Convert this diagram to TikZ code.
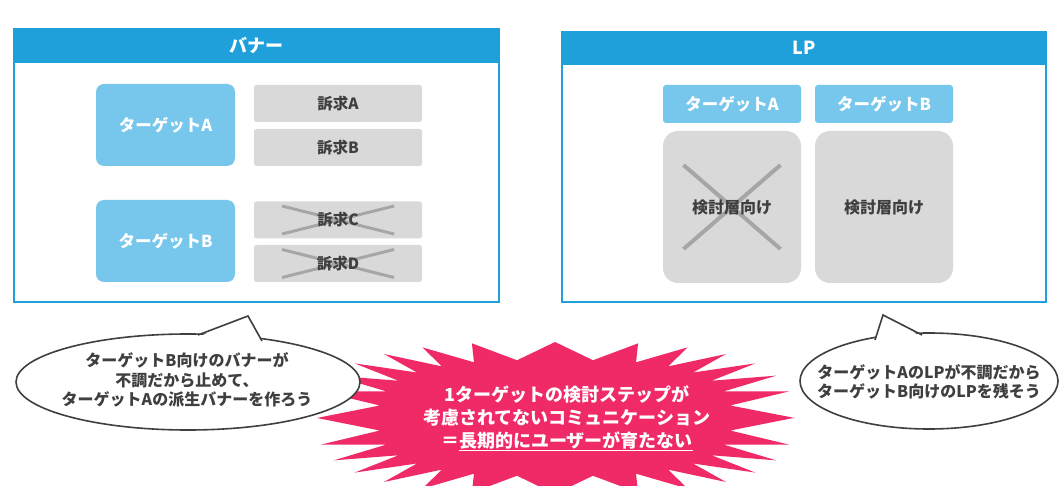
\documentclass[tikz,border=0pt]{standalone}
\usepackage{fontspec}
\setmainfont{Noto Sans CJK JP}
\usetikzlibrary{calc,shapes.geometric}
\definecolor{hdrblue}{HTML}{1FA0DA}
\definecolor{tgtblue}{HTML}{77C7EC}
\definecolor{boxgray}{HTML}{D9D9D9}
\definecolor{crossgray}{HTML}{A6A6A6}
\definecolor{txtdark}{HTML}{3F3F3F}
\definecolor{starpink}{HTML}{F02A66}
\tikzset{
  panelframe/.style={draw=hdrblue, line width=2pt, fill=white},
  panelhdr/.style={fill=hdrblue, draw=none},
  hdrtext/.style={text=white, font=\bfseries\fontsize{18}{20}\selectfont},
  tgtbox/.style={fill=tgtblue, draw=none, rounded corners=8pt, text=white,
    font=\bfseries\fontsize{16.5}{18}\selectfont, inner sep=0pt},
  appealbox/.style={fill=boxgray, draw=none, rounded corners=2.5pt, text=txtdark,
    minimum width=168pt, minimum height=37pt, inner sep=0pt,
    font=\bfseries\fontsize{15.5}{17}\selectfont},
  appealtext/.style={text=txtdark, font=\bfseries\fontsize{15.5}{17}\selectfont},
  lpbox/.style={fill=boxgray, draw=none, rounded corners=15pt, text=txtdark,
    minimum width=138pt, minimum height=152pt, inner sep=0pt,
    font=\bfseries\fontsize{16}{18}\selectfont},
  crossline/.style={draw=crossgray, line width=3.5pt},
  bubble/.style={ellipse, draw=txtdark, line width=1.6pt, fill=white, inner sep=0pt},
  bubbletext/.style={text=txtdark, align=center, font=\bfseries\fontsize{16}{19.5}\selectfont},
  bubbletail/.style={draw=txtdark, line width=1.6pt, line join=miter},
  startext/.style={text=white, align=center, font=\bfseries\fontsize{18}{23}\selectfont}
}
\begin{document}
\begin{tikzpicture}[x=1pt,y=-1pt,
  declare function={sq(\a)=cos(\a)*(abs(cos(\a))+0.0001)^(-0.3);
                    ss(\a)=sin(\a)*(abs(sin(\a))+0.0001)^(-0.3);}]
\useasboundingbox (0,0) rectangle (1063,486);
\clip (0,0) rectangle (1063,486);
\fill[white] (0,0) rectangle (1063,486);

% ---------- left panel ----------
\draw[panelframe] (14,29) rectangle (499,302);
\fill[panelhdr] (13,28) rectangle (500,63);
\node[hdrtext] (lhdr) at (256.5,45.5) {バナー};

\node[tgtbox, minimum width=139pt, minimum height=82pt] (ltA) at (165.5,125) {ターゲットA};
\node[tgtbox, minimum width=139pt, minimum height=82pt] (ltB) at (165.5,241) {ターゲットB};

\node[appealbox] (apA) at (338,103.5) {訴求A};
\node[appealbox] (apB) at (338,147.5) {訴求B};
\node[appealbox] (apC) at (338,220) {};
\node[appealbox] (apD) at (338,263.5) {};
\draw[crossline, line width=3pt] ($(apC.center)+(-56,-14)$) -- ($(apC.center)+(56,14)$);
\draw[crossline, line width=3pt] ($(apC.center)+(-56,14)$) -- ($(apC.center)+(56,-14)$);
\draw[crossline, line width=3pt] ($(apD.center)+(-56,-14)$) -- ($(apD.center)+(56,14)$);
\draw[crossline, line width=3pt] ($(apD.center)+(-56,14)$) -- ($(apD.center)+(56,-14)$);
\node[appealtext] (apCt) at (apC) {訴求C};
\node[appealtext] (apDt) at (apD) {訴求D};

% ---------- right panel ----------
\draw[panelframe] (562,32) rectangle (1046,302);
\fill[panelhdr] (561,31) rectangle (1047,65);
\node[hdrtext] (rhdr) at (804,48) {LP};

\node[tgtbox, rounded corners=3pt, minimum width=138pt, minimum height=38pt] (rtA) at (732,104) {ターゲットA};
\node[tgtbox, rounded corners=3pt, minimum width=138pt, minimum height=38pt] (rtB) at (884,104) {ターゲットB};

\node[lpbox] (lpA) at (732,207) {};
\node[lpbox] (lpB) at (884,207) {検討層向け};
\draw[crossline, line width=4pt] ($(lpA.center)+(-48.5,-42)$) -- ($(lpA.center)+(48.5,42)$);
\draw[crossline, line width=4pt] ($(lpA.center)+(-48.5,42)$) -- ($(lpA.center)+(48.5,-42)$);
\node[text=txtdark, font=\bfseries\fontsize{16}{18}\selectfont] (lpAt) at (lpA) {検討層向け};

% ---------- starburst ----------
\fill[starpink] (795,418)
  \foreach \k in {0,...,27}{
    -- ({555+176*sq((\k+0.5)*12.857)},{418-58*ss((\k+0.5)*12.857)})
    -- ({555+238*sq((\k+1)*12.857)},{418-76*ss((\k+1)*12.857)})
  } -- cycle;
\node[startext] (star) at (567,418)
  {1ターゲットの検討ステップが\\考慮されてないコミュニケーション\\＝\underline{長期的にユーザーが育たない}};

% ---------- left bubble ----------
\node[bubble, minimum width=344pt, minimum height=96pt] (lb) at (188,382) {};
\coordinate (lt1) at (198,335);
\coordinate (lt2) at (248,316);
\coordinate (lt3) at (262,341);
\fill[white] ($(lt1)+(0,2)$) -- (lt2) -- ($(lt3)+(0,2)$) -- (230,346) -- cycle;
\draw[bubbletail] (lt1) -- (lt2) -- (lt3);
\node[bubbletext] (lbt) at (187,380)
  {ターゲットB向けのバナーが\\不調だから止めて、\\ターゲットAの派生バナーを作ろう};

% ---------- right bubble ----------
\node[bubble, minimum width=258pt, minimum height=96pt] (rb) at (929,381) {};
\coordinate (rt1) at (875,340);
\coordinate (rt2) at (883,315);
\coordinate (rt3) at (922,335);
\fill[white] ($(rt1)+(0,2)$) -- (rt2) -- ($(rt3)+(0,2)$) -- (900,345) -- cycle;
\draw[bubbletail] (rt1) -- (rt2) -- (rt3);
\node[bubbletext] (rbt) at (929,382)
  {ターゲットAのLPが不調だから\\ターゲットB向けのLPを残そう};
\end{tikzpicture}
\end{document}
